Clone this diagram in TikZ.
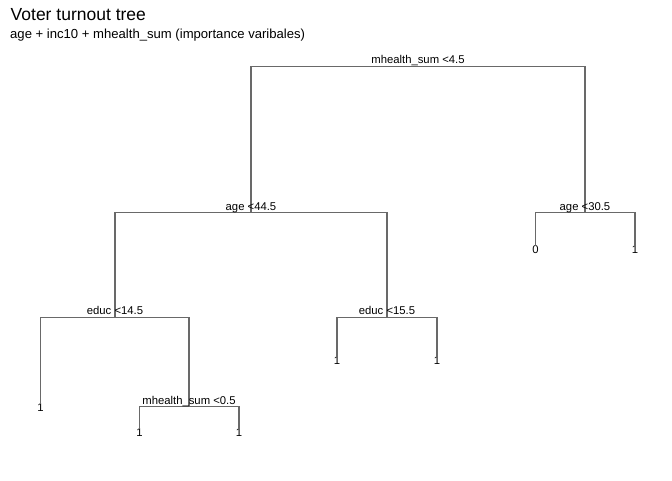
\documentclass[tikz,border=0pt]{standalone}
\usepackage{fontspec}
\setmainfont{Liberation Sans}
\definecolor{edgegray}{RGB}{105,105,105}
\tikzset{
  edge/.style={draw=edgegray, line width=1.1pt},
  splitlab/.style={anchor=base, inner sep=0pt, font=\fontsize{11.3}{12}\selectfont},
  leaflab/.style={anchor=north, inner sep=0pt, font=\fontsize{11.3}{12}\selectfont},
}
\begin{document}
\begin{tikzpicture}[x=1pt,y=-1pt]
\useasboundingbox (0,0) rectangle (672,480);
% titles
\node[anchor=base west, inner sep=0pt, font=\fontsize{17.5}{20}\selectfont] (title) at (10.5,20.7) {Voter turnout tree};
\node[anchor=base west, inner sep=0pt, font=\fontsize{13.1}{15}\selectfont] (subtitle) at (10,38.7) {age + inc10 + mhealth\_sum (importance varibales)};
% split points
\coordinate (root) at (418,66.7);
\coordinate (s1) at (251,212.7);
\coordinate (s2) at (585,212.7);
\coordinate (s11) at (115,317.3);
\coordinate (s12) at (387,317.3);
\coordinate (s112) at (189,406.7);
% leaves
\node[leaflab] (l2a) at (535.5,245.5) {0};
\node[leaflab] (l2b) at (635,245.5) {1};
\node[leaflab] (l12a) at (337,356.5) {1};
\node[leaflab] (l12b) at (437,356.5) {1};
\node[leaflab] (l111) at (40.5,403.5) {1};
\node[leaflab] (l112a) at (139.5,428.5) {1};
\node[leaflab] (l112b) at (239,428.5) {1};
% edges
\draw[edge] (root) -| (s1);
\draw[edge] (root) -| (s2);
\draw[edge] (s1) -| (s11);
\draw[edge] (s1) -| (s12);
\draw[edge] (s2) -| (l2a.north);
\draw[edge] (s2) -| (l2b.north);
\draw[edge] (s11) -| (l111.north);
\draw[edge] (s11) -| (s112);
\draw[edge] (s12) -| (l12a.north);
\draw[edge] (s12) -| (l12b.north);
\draw[edge] (s112) -| (l112a.north);
\draw[edge] (s112) -| (l112b.north);
% split labels
\node[splitlab] (t0) at ([yshift=3.2pt]root) {mhealth\_sum <4.5};
\node[splitlab] (t1) at ([yshift=2.6pt]s1) {age <44.5};
\node[splitlab] (t2) at ([yshift=2.6pt]s2) {age <30.5};
\node[splitlab] (t11) at ([yshift=2.6pt]s11) {educ <14.5};
\node[splitlab] (t12) at ([yshift=2.6pt]s12) {educ <15.5};
\node[splitlab] (t112) at ([yshift=2.6pt]s112) {mhealth\_sum <0.5};
\end{tikzpicture}
\end{document}
